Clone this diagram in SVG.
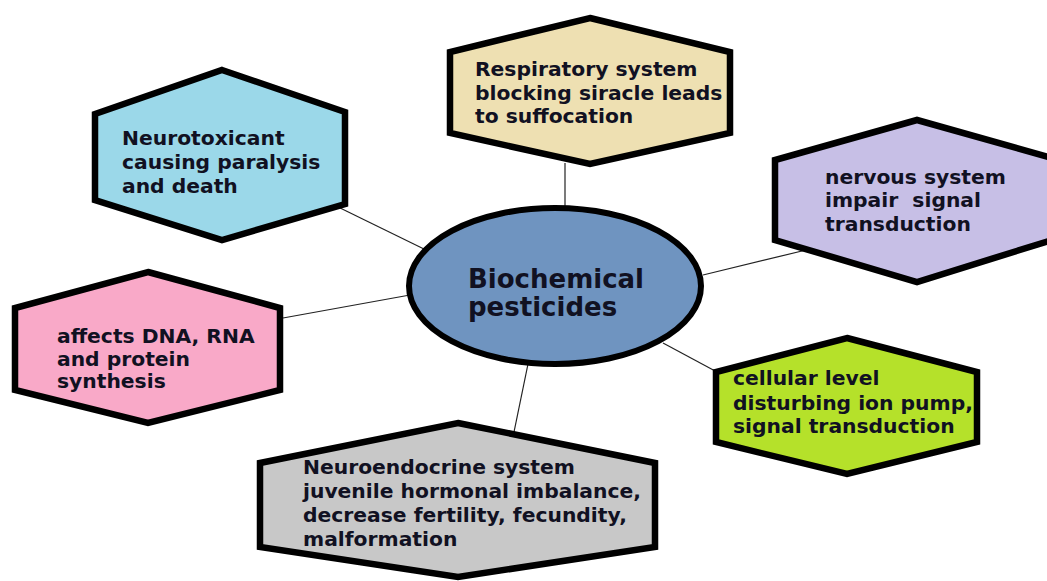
<svg xmlns="http://www.w3.org/2000/svg" width="1047" height="581" viewBox="0 0 1047 581">
<style>
.hex{stroke:#000;stroke-width:6.5;stroke-linejoin:miter}
.lbl{font-family:"DejaVu Sans","Liberation Sans",sans-serif;font-weight:bold;font-size:20.3px;fill:#111122;white-space:pre}
.ttl{font-family:"DejaVu Sans","Liberation Sans",sans-serif;font-weight:bold;font-size:26px;fill:#111122}
.con{stroke:#222;stroke-width:1.2;fill:none}
</style>
<rect width="1047" height="581" fill="#fff"/>
<g id="connectors">
<line class="con" x1="565" y1="163" x2="565" y2="209"/>
<line class="con" x1="334" y1="205" x2="426" y2="250"/>
<line class="con" x1="703" y1="275" x2="806" y2="250"/>
<line class="con" x1="283" y1="318" x2="410" y2="295"/>
<line class="con" x1="663" y1="343" x2="717" y2="372"/>
<line class="con" x1="528" y1="364" x2="514" y2="432"/>
</g>
<g id="node-respiratory">
<polygon class="hex" fill="#eee0b2" points="590,18 730,52 730,133 590,164 450,133 450,52"/>
<text class="lbl" x="475" y="76">Respiratory system</text>
<text class="lbl" x="475" y="100">blocking siracle leads</text>
<text class="lbl" x="475" y="123">to suffocation</text>
</g>
<g id="node-neurotoxicant">
<polygon class="hex" fill="#9bd8e9" points="222,70 345,112 345,204 222,240 95,200 95,114"/>
<text class="lbl" x="122" y="145">Neurotoxicant</text>
<text class="lbl" x="122" y="169">causing paralysis</text>
<text class="lbl" x="122" y="193">and death</text>
</g>
<g id="node-nervous">
<polygon class="hex" fill="#c7bfe6" points="917,120 1052,158 1052,240 917,282 775,240 775,160"/>
<text class="lbl" x="825" y="184">nervous system</text>
<text class="lbl" x="825" y="207" xml:space="preserve">impair  signal</text>
<text class="lbl" x="825" y="231">transduction</text>
</g>
<g id="node-dna">
<polygon class="hex" fill="#f9a9c8" points="148,272 280,308 280,390 148,423 15,390 15,308"/>
<text class="lbl" x="57" y="343">affects DNA, RNA</text>
<text class="lbl" x="57" y="366">and protein</text>
<text class="lbl" x="57" y="388">synthesis</text>
</g>
<g id="node-cellular">
<polygon class="hex" fill="#b5e12a" points="847,338 977,372 977,442 847,474 716,442 716,372"/>
<text class="lbl" x="733" y="385">cellular level</text>
<text class="lbl" x="733" y="410">disturbing ion pump,</text>
<text class="lbl" x="733" y="433">signal transduction</text>
</g>
<g id="node-neuroendocrine">
<polygon class="hex" fill="#c8c8c8" points="458,423 655,463 655,547 458,577 260,547 260,463"/>
<text class="lbl" x="303" y="474">Neuroendocrine system</text>
<text class="lbl" x="303" y="498">juvenile hormonal imbalance,</text>
<text class="lbl" x="303" y="522">decrease fertility, fecundity,</text>
<text class="lbl" x="303" y="546">malformation</text>
</g>
<g id="node-center">
<ellipse cx="555" cy="286" rx="146" ry="78" fill="#6f94c0" stroke="#000" stroke-width="6"/>
<text class="ttl" x="468" y="288">Biochemical</text>
<text class="ttl" x="468" y="316">pesticides</text>
</g>
</svg>
